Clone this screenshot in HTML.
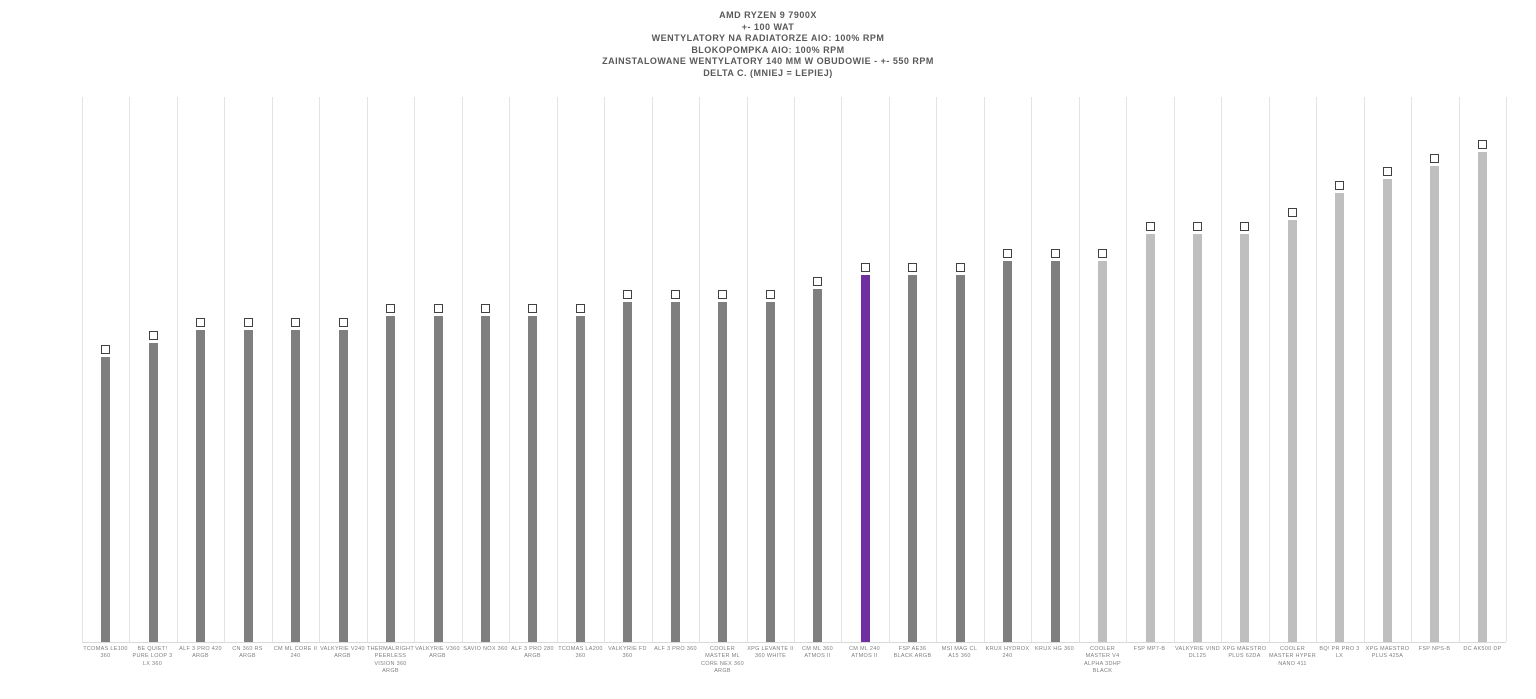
<!DOCTYPE html>
<html><head><meta charset="utf-8"><style>
body{margin:0;width:1536px;height:699px;background:#fff;position:relative;overflow:hidden;font-family:"Liberation Sans",sans-serif}
#t{position:absolute;top:10px;left:0;width:1536px;text-align:center;font-size:9px;font-weight:bold;color:#595959;line-height:11.5px;letter-spacing:0.5px}
.g{position:absolute;top:97px;height:545px;width:1px;background:#e3e3e3}
.b{position:absolute;width:9px}
.l{position:absolute;width:7px;height:7px;border:1px solid #404040;background:#fff}
.c{position:absolute;top:646px;width:47px;text-align:center;font-size:5.5px;color:#7f7f7f;line-height:7.4px;letter-spacing:0.3px}
#ax{position:absolute;left:82px;top:642px;width:1424px;height:1px;background:#d9d9d9}
</style></head><body>
<div id="t">AMD RYZEN 9 7900X<br>+- 100 WAT<br>WENTYLATORY NA RADIATORZE AIO: 100% RPM<br>BLOKOPOMPKA AIO: 100% RPM<br>ZAINSTALOWANE WENTYLATORY 140 MM W OBUDOWIE - +- 550 RPM<br>DELTA C. (MNIEJ = LEPIEJ)</div>
<div id="ax"></div>
<script>
var names=["TCOMAS LE100 360","BE QUIET! PURE LOOP 3 LX 360","ALF 3 PRO 420 ARGB","CN 360 RS ARGB","CM ML CORE II 240","VALKYRIE V240 ARGB","THERMALRIGHT PEERLESS VISION 360 ARGB","VALKYRIE V360 ARGB","SAVIO NOX 360","ALF 3 PRO 280 ARGB","TCOMAS LA200 360","VALKYRIE FD 360","ALF 3 PRO 360","COOLER MASTER ML CORE NEX 360 ARGB","XPG LEVANTE II 360 WHITE","CM ML 360 ATMOS II","CM ML 240 ATMOS II","FSP AE36 BLACK ARGB","MSI MAG CL A15 360","KRUX HYDROX 240","KRUX HG 360","COOLER MASTER V4 ALPHA 3DHP BLACK","FSP MP7-B","VALKYRIE VIND DL125","XPG MAESTRO PLUS 62DA","COOLER MASTER HYPER NANO 411","BQ! PR PRO 3 LX","XPG MAESTRO PLUS 425A","FSP NPS-B","DC AK500 DP"];
var tops=[357,343,330,330,330,330,316,316,316,316,316,302,302,302,302,289,275,275,275,261,261,261,234,234,234,220,193,179,166,152];
var h="",w=1424/30;
for(var i=0;i<30;i++){var x=82+i*w,cx=x+w/2;
h+='<div class="g" style="left:'+Math.round(x)+'px"></div>';
var col=i==16?'#7030a0':(i>=21?'#bfbfbf':'#7f7f7f');
h+='<div class="b" style="left:'+Math.round(cx-4.5)+'px;top:'+tops[i]+'px;height:'+(642-tops[i])+'px;background:'+col+'"></div>';
h+='<div class="l" style="left:'+Math.round(cx-4.5)+'px;top:'+(tops[i]-12)+'px"></div>';
h+='<div class="c" style="left:'+Math.round(x)+'px">'+names[i]+'</div>';}
h+='<div class="g" style="left:1506px"></div>';
document.body.insertAdjacentHTML('beforeend',h);
</script>
</body></html>
